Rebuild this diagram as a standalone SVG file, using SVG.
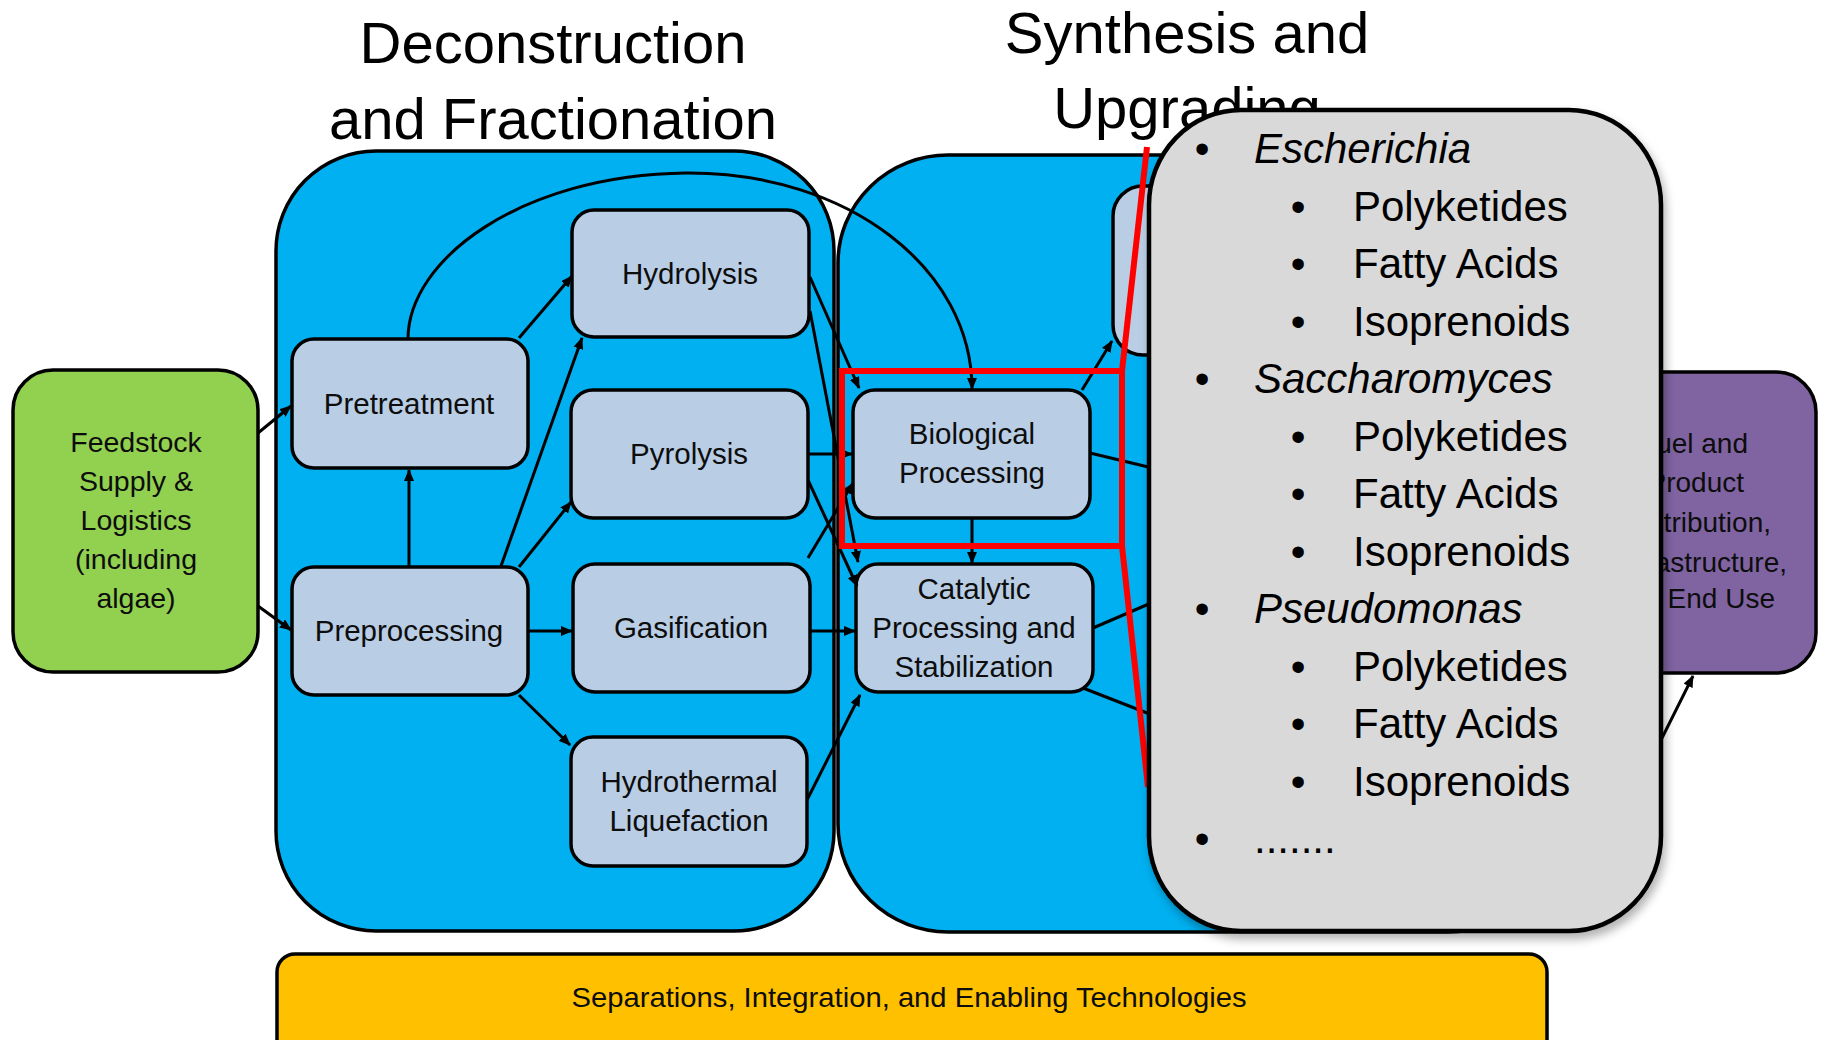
<svg xmlns="http://www.w3.org/2000/svg" width="1824" height="1040" viewBox="0 0 1824 1040">
<defs>
<style>
.title{font-family:"Liberation Sans",Arial,sans-serif;font-size:58px;fill:#000;text-anchor:middle}
.panel{fill:#00B0F0;stroke:#000;stroke-width:3.5}
.node{fill:#B9CDE5;stroke:#000;stroke-width:3.5}
.nt{font-family:"Liberation Sans",Arial,sans-serif;font-size:29.5px;fill:#0D0D0D;text-anchor:middle}
.gt{font-family:"Liberation Sans",Arial,sans-serif;font-size:28.5px;fill:#0D0D0D;text-anchor:middle}
.pt{font-family:"Liberation Sans",Arial,sans-serif;font-size:28px;fill:#0D0D0D;text-anchor:end}
.conn{fill:none;stroke:#000;stroke-width:3}
.arr{marker-end:url(#ah)}
.red{fill:none;stroke:#FF0000;stroke-width:6}
.ct{font-family:"Liberation Sans",Arial,sans-serif;font-size:42px;fill:#000}
.it{font-style:italic}
.bl{text-anchor:middle}
</style>
<marker id="ah" markerWidth="12" markerHeight="10" refX="11" refY="5" orient="auto" markerUnits="userSpaceOnUse">
<path d="M0,0 L12,5 L0,10 z" fill="#000"/>
</marker>
<filter id="sh" x="-10%" y="-10%" width="125%" height="125%">
<feDropShadow dx="3" dy="6" stdDeviation="5" flood-color="#000" flood-opacity="0.3"/>
</filter>
</defs>
<rect width="1824" height="1040" fill="#FFFFFF"/>

<g id="titles">
<text class="title" x="553" y="63">Deconstruction</text>
<text class="title" x="553" y="139">and Fractionation</text>
<text class="title" x="1187" y="53">Synthesis and</text>
<text class="title" x="1187" y="128">Upgrading</text>
</g>

<g id="panel-deconstruction"><rect class="panel" x="276" y="151" width="558" height="780" rx="100" ry="100"/></g>
<g id="panel-synthesis"><rect class="panel" x="838" y="155" width="720" height="777" rx="110" ry="108"/></g>

<g id="node-upgrading"><rect class="node" x="1113" y="186" width="200" height="169" rx="30" ry="30"/></g>
<g id="node-enduse">
<rect x="1560" y="372" width="256" height="301" rx="40" ry="40" fill="#8064A2" stroke="#000" stroke-width="3.5"/>
<text class="pt" x="1748" y="453">Fuel and</text>
<text class="pt" x="1744" y="492">Product</text>
<text class="pt" x="1771" y="532">Distribution,</text>
<text class="pt" x="1787" y="572">Infrastructure,</text>
<text class="pt" x="1775" y="608">and End Use</text>
</g>

<g id="node-feedstock">
<rect x="13" y="370" width="245" height="302" rx="40" ry="40" fill="#92D050" stroke="#000" stroke-width="3.5"/>
<text class="gt" x="136" y="452">Feedstock</text>
<text class="gt" x="136" y="491">Supply &amp;</text>
<text class="gt" x="136" y="530">Logistics</text>
<text class="gt" x="136" y="569">(including</text>
<text class="gt" x="136" y="608">algae)</text>
</g>

<g id="node-pretreatment"><rect class="node" x="292" y="339" width="236" height="129" rx="22"/><text class="nt" x="409" y="414">Pretreatment</text></g>
<g id="node-preprocessing"><rect class="node" x="292" y="567" width="236" height="128" rx="22"/><text class="nt" x="409" y="641">Preprocessing</text></g>
<g id="node-hydrolysis"><rect class="node" x="572" y="210" width="237" height="127" rx="22"/><text class="nt" x="690" y="284">Hydrolysis</text></g>
<g id="node-pyrolysis"><rect class="node" x="571" y="390" width="237" height="128" rx="22"/><text class="nt" x="689" y="464">Pyrolysis</text></g>
<g id="node-gasification"><rect class="node" x="573" y="564" width="237" height="128" rx="22"/><text class="nt" x="691" y="638">Gasification</text></g>
<g id="node-htl"><rect class="node" x="571" y="737" width="236" height="129" rx="22"/><text class="nt" x="689" y="792">Hydrothermal</text><text class="nt" x="689" y="831">Liquefaction</text></g>
<g id="node-biological"><rect class="node" x="853" y="390" width="237" height="128" rx="22"/><text class="nt" x="972" y="444">Biological</text><text class="nt" x="972" y="483">Processing</text></g>
<g id="node-catalytic"><rect class="node" x="856" y="564" width="237" height="128" rx="22"/><text class="nt" x="974" y="599">Catalytic</text><text class="nt" x="974" y="638">Processing and</text><text class="nt" x="974" y="677">Stabilization</text></g>

<g id="connectors">
<path class="conn arr" d="M258,433 L291,406"/>
<path class="conn arr" d="M258,606 L291,630"/>
<path class="conn arr" d="M409,567 L409,470"/>
<path class="conn arr" d="M519,338 L572,276"/>
<path class="conn arr" d="M501,566 L582,338"/>
<path class="conn arr" d="M519,567 L571,502"/>
<path class="conn arr" d="M528,631 L572,631"/>
<path class="conn arr" d="M519,695 L570,745"/>
<path class="conn arr" d="M408,339 C408,260 520,175 686,173 C850,172 972,270 972,389"/>
<path class="conn arr" d="M810,277 L859,388"/>
<path class="conn arr" d="M810,311 L858,562"/>
<path class="conn arr" d="M808,454 L852,454"/>
<path class="conn arr" d="M808,480 L857,586"/>
<path class="conn arr" d="M808,558 L853,483"/>
<path class="conn arr" d="M810,631 L855,631"/>
<path class="conn arr" d="M807,800 L860,695"/>
<path class="conn arr" d="M972,518 L972,563"/>
<path class="conn arr" d="M1082,390 L1112,341"/>
<path class="conn" d="M1090,453 L1165,471"/>
<path class="conn" d="M1093,628 L1165,597"/>
<path class="conn" d="M1083,688 L1165,720"/>
<path class="conn arr" d="M1655,752 L1693,676"/>
</g>

<g id="highlight">
<rect class="red" x="842" y="371" width="280" height="175"/>
<path class="red" d="M1122,371 L1147,147"/>
<path class="red" d="M1122,546 L1148,787"/>
</g>

<g id="callout">
<rect x="1149" y="110" width="512" height="821" rx="92" ry="95" fill="#D9D9D9" stroke="#000" stroke-width="4.5" filter="url(#sh)"/>
<text class="ct bl" x="1202" y="163">•</text><text class="ct it" x="1254" y="163">Escherichia</text>
<text class="ct bl" x="1298" y="221">•</text><text class="ct" x="1353" y="221">Polyketides</text>
<text class="ct bl" x="1298" y="278">•</text><text class="ct" x="1353" y="278">Fatty Acids</text>
<text class="ct bl" x="1298" y="336">•</text><text class="ct" x="1353" y="336">Isoprenoids</text>
<text class="ct bl" x="1202" y="393">•</text><text class="ct it" x="1254" y="393">Saccharomyces</text>
<text class="ct bl" x="1298" y="451">•</text><text class="ct" x="1353" y="451">Polyketides</text>
<text class="ct bl" x="1298" y="508">•</text><text class="ct" x="1353" y="508">Fatty Acids</text>
<text class="ct bl" x="1298" y="566">•</text><text class="ct" x="1353" y="566">Isoprenoids</text>
<text class="ct bl" x="1202" y="623">•</text><text class="ct it" x="1254" y="623">Pseudomonas</text>
<text class="ct bl" x="1298" y="681">•</text><text class="ct" x="1353" y="681">Polyketides</text>
<text class="ct bl" x="1298" y="738">•</text><text class="ct" x="1353" y="738">Fatty Acids</text>
<text class="ct bl" x="1298" y="796">•</text><text class="ct" x="1353" y="796">Isoprenoids</text>
<text class="ct bl" x="1202" y="853">•</text><text class="ct" x="1254" y="853">.......</text>
</g>

<g id="node-separations">
<rect x="277" y="954" width="1270" height="110" rx="18" ry="18" fill="#FFC000" stroke="#000" stroke-width="3.5"/>
<text class="nt" x="909" y="1007" style="font-size:28px" textLength="675" lengthAdjust="spacingAndGlyphs">Separations, Integration, and Enabling Technologies</text>
</g>
</svg>
